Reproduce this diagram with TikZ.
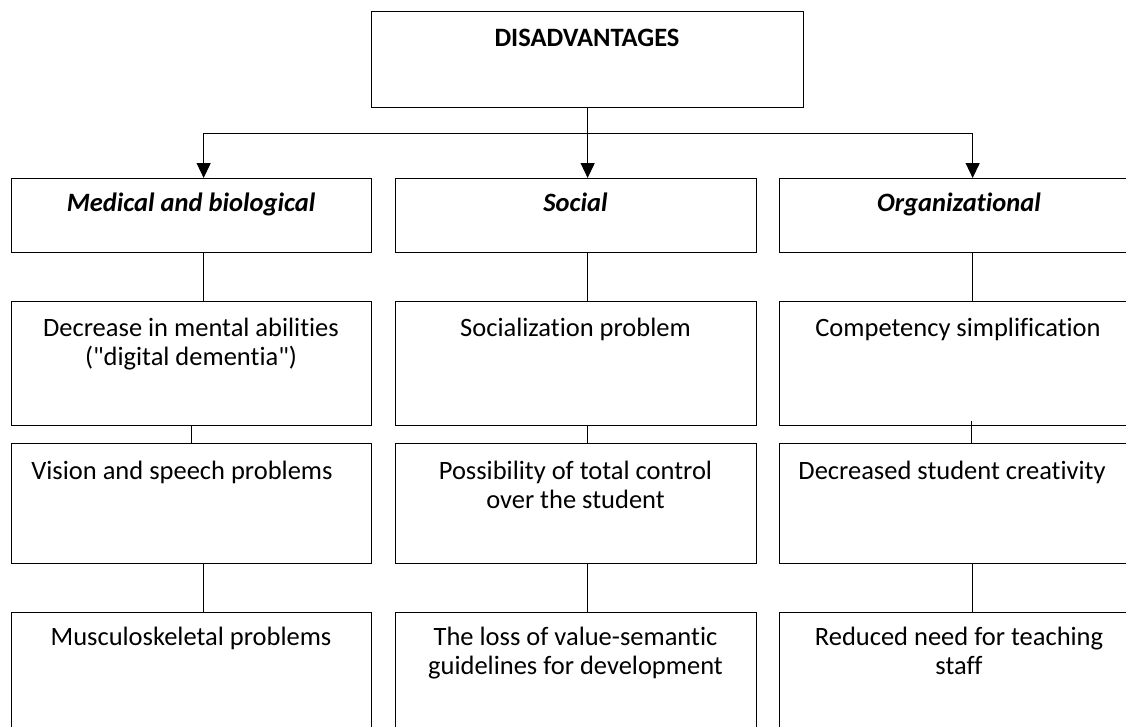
\documentclass[tikz,border=0pt]{standalone}
\usepackage{fontspec}
\setmainfont{Carlito}[Ligatures={NoCommon}]
\usetikzlibrary{arrows.meta}
\begin{document}
\begin{tikzpicture}[x=1pt,y=-1pt,
  box/.style={draw, line width=1.3pt, rectangle, inner sep=0pt, anchor=north west},
  txt/.style={anchor=north, align=center, inner sep=0pt, font=\fontsize{26.5}{29}\selectfont},
  link/.style={line width=1.3pt},
  arr/.style={line width=1.3pt, -{Triangle[length=15pt,width=14pt]}}]
\useasboundingbox (0,0) rectangle (1126,726);
\clip (0,0) rectangle (1126,726);
% top box
\node[box, minimum width=432pt, minimum height=96pt] (top) at (371,11) {};
\node[txt, font=\fontsize{26.5}{29}\selectfont\bfseries] (ttop) at (587,26.4) {\strut DISADVANTAGES};
% row 1
\node[box, minimum width=360pt, minimum height=74pt] (m1) at (11,178) {};
\node[box, minimum width=361pt, minimum height=74pt] (s1) at (395,178) {};
\node[box, minimum width=361pt, minimum height=74pt] (o1) at (779,178) {};
\node[txt, font=\fontsize{26.5}{29}\selectfont\bfseries\itshape] (tm1) at (191,191.2) {\strut Medical and biological};
\node[txt, font=\fontsize{26.5}{29}\selectfont\bfseries\itshape] (ts1) at (575.5,191.2) {\strut Social};
\node[txt, font=\fontsize{26.5}{29}\selectfont\bfseries\itshape] (to1) at (959,191.2) {\strut Organizational};
% row 2
\node[box, minimum width=360pt, minimum height=124pt] (m2) at (11,301) {};
\node[box, minimum width=361pt, minimum height=124pt] (s2) at (395,301) {};
\node[box, minimum width=361pt, minimum height=124pt] (o2) at (779,301) {};
\node[txt] (tm2) at (191,316.4) {\strut Decrease in mental abilities\\(\textquotedbl digital dementia\textquotedbl)};
\node[txt] (ts2) at (575.5,316.4) {\strut Socialization problem};
\node[txt] (to2) at (958,316.4) {\strut Competency simplification};
% row 3
\node[box, minimum width=360pt, minimum height=120pt] (m3) at (11,443) {};
\node[box, minimum width=361pt, minimum height=120pt] (s3) at (395,443) {};
\node[box, minimum width=361pt, minimum height=120pt] (o3) at (779,443) {};
\node[txt] (tm3) at (182,458.7) {\strut Vision and speech problems};
\node[txt] (ts3) at (575.5,458.7) {\strut Possibility of total control\\over the student};
\node[txt] (to3) at (952,458.7) {\strut Decreased student creativity};
% row 4
\node[box, minimum width=360pt, minimum height=130pt] (m4) at (11,612) {};
\node[box, minimum width=361pt, minimum height=130pt] (s4) at (395,612) {};
\node[box, minimum width=361pt, minimum height=130pt] (o4) at (779,612) {};
\node[txt] (tm4) at (191,624.7) {\strut Musculoskeletal problems};
\node[txt] (ts4) at (575.5,624.7) {\strut The loss of value-semantic\\guidelines for development};
\node[txt] (to4) at (959,624.7) {\strut Reduced need for teaching\\staff};
% arrows from top
\coordinate (j) at ([yshift=-25pt]top.south);
\draw[link] (top.south) -- (j);
\draw[arr] (j) -| ([xshift=12pt]m1.north);
\draw[arr] (j) -- (j |- s1.north);
\draw[arr] (j) -| ([xshift=12.5pt]o1.north);
% column links
\draw[link] ([xshift=12pt]m1.south) -- ([xshift=12pt]m2.north);
\draw[link] ([xshift=11.5pt]s1.south) -- ([xshift=11.5pt]s2.north);
\draw[link] ([xshift=12.5pt]o1.south) -- ([xshift=12.5pt]o2.north);
\draw[link] (m2.south) -- (m3.north);
\draw[link] ([xshift=11.5pt]s2.south) -- ([xshift=11.5pt]s3.north);
\draw[link] ([xshift=11.5pt,yshift=5pt]o2.south) -- ([xshift=11.5pt]o3.north);
\draw[link] ([xshift=12pt]m3.south) -- ([xshift=12pt]m4.north);
\draw[link] ([xshift=11.5pt]s3.south) -- ([xshift=11.5pt]s4.north);
\draw[link] ([xshift=12.5pt]o3.south) -- ([xshift=12.5pt]o4.north);
\end{tikzpicture}
\end{document}
